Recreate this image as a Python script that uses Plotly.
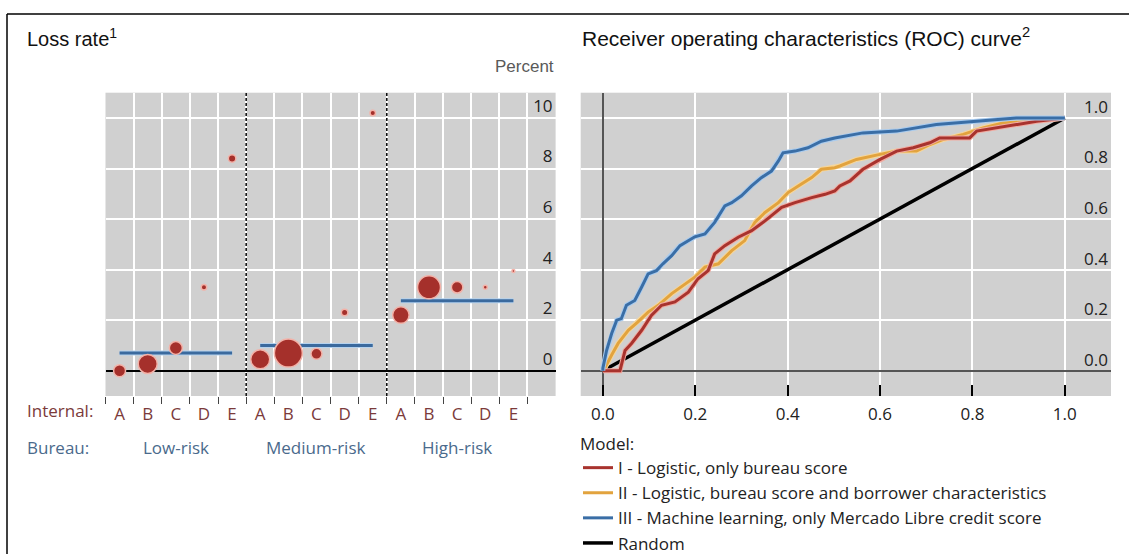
import plotly.graph_objects as go

# ---------------- Data: loss rate panel ----------------
internal = ["A", "B", "C", "D", "E"]
bureau = ["Low-risk", "Medium-risk", "High-risk"]
loss_low = [0.0, 0.27, 0.9, 3.3, 8.4]
loss_med = [0.45, 0.7, 0.67, 2.3, 10.2]
loss_high = [2.2, 3.3, 3.3, 3.3, 3.95]
bubble_low = [12, 19, 13, 5.5, 7.5]
bubble_med = [19, 28, 11, 6.5, 5.5]
bubble_high = [16.5, 23, 11.5, 4, 3]
avg_loss = [0.7, 1.0, 2.77]

# ---------------- Data: ROC panel ----------------
roc1_fpr = [0, 0.037, 0.048, 0.062, 0.084, 0.105, 0.127, 0.156, 0.185, 0.206, 0.228, 0.242,
            0.264, 0.293, 0.322, 0.351, 0.387, 0.416, 0.452, 0.481, 0.502, 0.513, 0.535,
            0.563, 0.6, 0.636, 0.672, 0.708, 0.729, 0.794, 0.809, 0.852, 0.895, 0.939, 1.0]
roc1_tpr = [0, 0, 0.08, 0.108, 0.16, 0.219, 0.259, 0.272, 0.311, 0.364, 0.396, 0.462,
            0.495, 0.528, 0.554, 0.593, 0.646, 0.665, 0.685, 0.698, 0.711, 0.731, 0.751,
            0.797, 0.836, 0.869, 0.882, 0.902, 0.921, 0.921, 0.948, 0.961, 0.974, 0.987, 1.0]
roc2_fpr = [0, 0.004, 0.019, 0.033, 0.055, 0.076, 0.098, 0.12, 0.149, 0.17, 0.199, 0.221,
            0.25, 0.279, 0.307, 0.329, 0.351, 0.38, 0.401, 0.423, 0.452, 0.473, 0.502,
            0.513, 0.549, 0.6, 0.636, 0.679, 0.708, 0.737, 0.78, 0.823, 0.866, 0.924, 1.0]
roc2_tpr = [0, 0.01, 0.062, 0.108, 0.16, 0.193, 0.232, 0.259, 0.305, 0.331, 0.37, 0.41,
            0.423, 0.475, 0.515, 0.587, 0.626, 0.665, 0.705, 0.731, 0.764, 0.797, 0.803,
            0.81, 0.836, 0.856, 0.869, 0.869, 0.895, 0.915, 0.935, 0.961, 0.98, 0.987, 1.0]
roc3_fpr = [0, 0, 0.008, 0.019, 0.03, 0.04, 0.051, 0.069, 0.084, 0.098, 0.116, 0.13, 0.149,
            0.167, 0.199, 0.221, 0.242, 0.264, 0.279, 0.30, 0.322, 0.343, 0.365, 0.38, 0.39,
            0.416, 0.444, 0.473, 0.502, 0.527, 0.563, 0.636, 0.679, 0.722, 0.809, 0.895, 1.0]
roc3_tpr = [0, 0.01, 0.08, 0.147, 0.2, 0.206, 0.259, 0.278, 0.331, 0.383, 0.396, 0.423, 0.455,
            0.495, 0.53, 0.541, 0.587, 0.652, 0.665, 0.692, 0.731, 0.764, 0.79, 0.83, 0.862,
            0.869, 0.882, 0.908, 0.921, 0.928, 0.941, 0.948, 0.961, 0.974, 0.987, 1.0, 1.0]
random_fpr = [0, 1]
random_tpr = [0, 1]
model_names = ["I - Logistic, only bureau score",
               "II - Logistic, bureau score and borrower characteristics",
               "III - Machine learning, only Mercado Libre credit score",
               "Random"]
x_ticks_roc = [0, 0.2, 0.4, 0.6, 0.8, 1.0]
y_ticks_roc = [0, 0.2, 0.4, 0.6, 0.8, 1.0]
y_ticks_loss = [0, 2, 4, 6, 8, 10]

# ---------------- Styling ----------------
W, H = 1129, 554
SANS = "Open Sans"
ARIAL = "Liberation Sans"
RED = "#a5302b"
RED_EDGE = "#f3b2a8"
BLUE = "#3b6a9e"
BLUE_HALO = "#b5d2ee"
GRAY_BG = "#d0d0d0"
INTERNAL_COL = "#7b3a3a"
BUREAU_COL = "#4a6a8c"

def px(xp):
    return xp / W

def py(yp):
    return 1 - yp / H

fig = go.Figure()

# ---- Loss rate bubbles ----
groups = [(loss_low, bubble_low), (loss_med, bubble_med), (loss_high, bubble_high)]
for g, (vals, sizes) in enumerate(groups):
    xs = [g * len(internal) + j for j in range(len(internal))]
    x_line = [g * len(internal), g * len(internal) + len(internal) - 1]
    fig.add_trace(go.Scatter(
        x=x_line, y=[avg_loss[g]] * 2, mode="lines", xaxis="x", yaxis="y",
        showlegend=False, line=dict(color=BLUE_HALO, width=5), hoverinfo="skip"))
    fig.add_trace(go.Scatter(
        x=x_line, y=[avg_loss[g]] * 2, mode="lines", xaxis="x", yaxis="y",
        showlegend=False, line=dict(color=BLUE, width=3), hoverinfo="skip"))
    fig.add_trace(go.Scatter(
        x=xs, y=vals, mode="markers", xaxis="x", yaxis="y", showlegend=False,
        marker=dict(size=sizes, sizemode="diameter", color=RED, opacity=1,
                    line=dict(color=RED_EDGE, width=1.5)),
        hoverinfo="skip"))

# ---- ROC curves ----
roc_series = [
    (random_fpr, random_tpr, "#000000", None, 3.5, 4),
    (roc2_fpr, roc2_tpr, "#e2a33e", "#f6d69a", 3, 2),
    (roc1_fpr, roc1_tpr, "#a8332e", "#f1aaa0", 3, 1),
    (roc3_fpr, roc3_tpr, "#3a6ea6", "#a9cbee", 3, 3),
]
for fx, ty, col, halo, w, rank in roc_series:
    if halo:
        fig.add_trace(go.Scatter(x=fx, y=ty, mode="lines", xaxis="x2", yaxis="y2",
                                 showlegend=False, line=dict(color=halo, width=w + 2),
                                 hoverinfo="skip"))
    fig.add_trace(go.Scatter(x=fx, y=ty, mode="lines", xaxis="x2", yaxis="y2",
                             name=model_names[rank - 1], legendrank=rank,
                             line=dict(color=col, width=w)))

ydom = [py(396), py(92.7)]
tick_font = dict(family=SANS, size=17, color="#222222")

fig.update_layout(
    width=W, height=H,
    margin=dict(l=0, r=0, t=0, b=0, autoexpand=False),
    paper_bgcolor="white",
    plot_bgcolor=GRAY_BG,
    font=dict(family=SANS, size=16, color="#222222"),
    xaxis=dict(
        domain=[px(105.5), px(555.6)], range=[-0.5, 15.5], anchor="y",
        tickmode="array", tickvals=list(range(15)), ticktext=internal * 3,
        ticks="", showgrid=False, zeroline=False, showline=False,
        tickfont=dict(family=SANS, size=17, color=INTERNAL_COL),
        ticklabelstandoff=6,
        minor=dict(tickmode="array", tickvals=[i - 0.5 for i in range(16)],
                   ticks="outside", ticklen=7, tickcolor="#444444", tickwidth=1,
                   showgrid=True, gridcolor="white", gridwidth=2),
    ),
    yaxis=dict(
        domain=ydom, range=[-1, 11], anchor="x",
        tickvals=y_ticks_loss, side="right", ticklabelposition="inside",
        ticklabelshift=-12, ticks="", tickfont=tick_font,
        showgrid=True, gridcolor="white", gridwidth=2,
        zeroline=True, zerolinecolor="black", zerolinewidth=2, showline=False,
    ),
    xaxis2=dict(
        domain=[px(580.7), px(1111)], range=[-0.048, 1.1], anchor="y2",
        tickvals=x_ticks_roc, ticktext=[f"{v:.1f}" for v in x_ticks_roc],
        ticks="inside", ticklen=11, tickwidth=2, tickcolor="black",
        tickfont=tick_font, ticklabelstandoff=6,
        showgrid=True, gridcolor="white", gridwidth=2,
        zeroline=True, zerolinecolor="#555555", zerolinewidth=1.5, showline=False,
    ),
    yaxis2=dict(
        domain=ydom, range=[-0.1, 1.1], anchor="x2",
        tickvals=y_ticks_roc, ticktext=[f"{v:.1f}" for v in y_ticks_roc],
        side="right", ticklabelposition="inside", ticklabelshift=-11, ticks="",
        tickfont=tick_font,
        showgrid=True, gridcolor="white", gridwidth=2,
        zeroline=True, zerolinecolor="#555555", zerolinewidth=1.5, showline=False,
    ),
    legend=dict(
        x=px(578), y=py(428), xanchor="left", yanchor="top",
        title=dict(text="Model:", font=dict(family=SANS, size=17, color="#222222")),
        font=dict(family=SANS, size=17, color="#222222"),
        bgcolor="rgba(0,0,0,0)", tracegroupgap=0, itemwidth=30,
    ),
)

annotations = [
    dict(text="Loss rate<sup>1</sup>", x=px(25), y=py(37), xref="paper", yref="paper",
         xanchor="left", yanchor="middle", showarrow=False,
         font=dict(family=ARIAL, size=20, color="#111111")),
    dict(text="Receiver operating characteristics (ROC) curve<sup>2</sup>", x=px(580), y=py(37),
         xref="paper", yref="paper", xanchor="left", yanchor="middle", showarrow=False,
         font=dict(family=ARIAL, size=21, color="#111111")),
    dict(text="Percent", x=px(556), y=py(66), xref="paper", yref="paper",
         xanchor="right", yanchor="middle", showarrow=False,
         font=dict(family=ARIAL, size=17, color="#595959")),
    dict(text="Internal:", x=px(25), y=py(410), xref="paper", yref="paper",
         xanchor="left", yanchor="middle", showarrow=False,
         font=dict(family=SANS, size=17, color=INTERNAL_COL)),
    dict(text="Bureau:", x=px(25), y=py(448), xref="paper", yref="paper",
         xanchor="left", yanchor="middle", showarrow=False,
         font=dict(family=SANS, size=17, color=BUREAU_COL)),
]
for g, name in enumerate(bureau):
    annotations.append(dict(text=name, x=g * len(internal) + 2, y=py(448), xref="x",
                            yref="paper", xanchor="center", yanchor="middle",
                            showarrow=False,
                            font=dict(family=SANS, size=17, color=BUREAU_COL)))
fig.update_layout(annotations=annotations)

shapes = [
    dict(type="line", xref="paper", yref="paper", x0=px(7), x1=1, y0=py(14), y1=py(14),
         line=dict(color="black", width=1.5)),
    dict(type="line", xref="paper", yref="paper", x0=px(7), x1=px(7), y0=0, y1=py(14),
         line=dict(color="black", width=1.5)),
]
for b in [4.5, 9.5]:
    shapes.append(dict(type="line", xref="x", yref="y domain", x0=b, x1=b, y0=0, y1=1,
                       line=dict(color="black", width=1.5, dash="3px,2px")))
fig.update_layout(shapes=shapes)

fig.write_html("out.html", config={"displayModeBar": False},
               post_script="document.body.style.margin='0';")
